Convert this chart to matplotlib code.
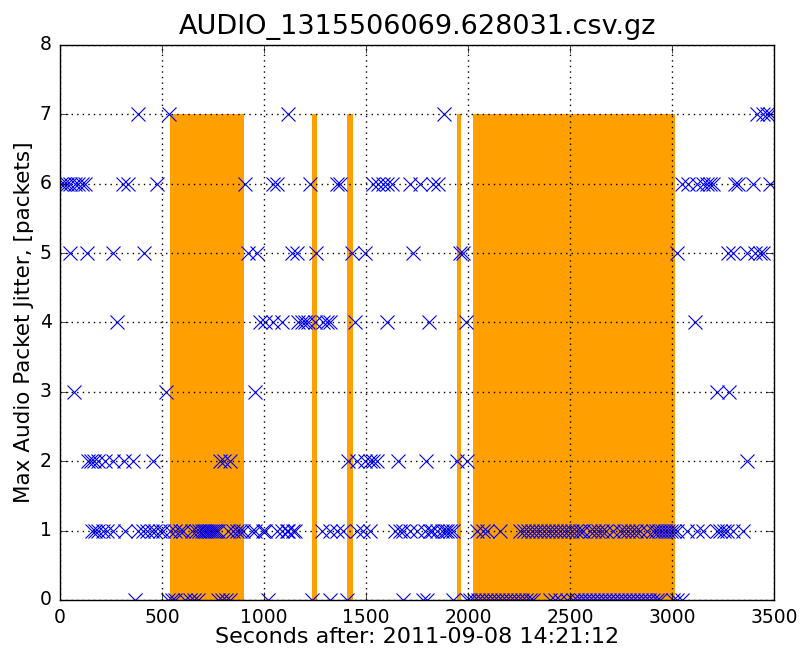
import matplotlib
matplotlib.use("Agg")
import matplotlib.pyplot as plt
import numpy as np

title = "AUDIO_1315506069.628031.csv.gz"
xlabel = "Seconds after: 2011-09-08 14:21:12"
ylabel = "Max Audio Packet Jitter, [packets]"

# orange span intervals (start, end) in seconds, filled from 0 up to span_level
span_starts = [539, 1235, 1407, 1946, 2025]
span_ends = [902, 1260, 1436, 1966, 3015]
span_level = 7

# jitter samples by level (seconds)
t_jit0 = [368, 529, 549, 564, 613, 637, 657, 676, 774, 794, 814, 833, 1020, 1235,
          1324, 1407, 1681, 1779, 1799, 1926, 1995, 2010, 2029, 2049, 2069, 2088,
          2108, 2127, 2147, 2167, 2186, 2206, 2225, 2245, 2265, 2284, 2304, 2319,
          2402, 2426, 2451, 2485, 2515, 2534, 2554, 2574, 2593, 2613, 2632, 2652,
          2672, 2691, 2711, 2730, 2750, 2770, 2789, 2809, 2828, 2848, 2868, 2887,
          2907, 2926, 2941, 3005, 3025, 3049]
t_jit1 = [157, 172, 186, 211, 230, 260, 319, 382, 407, 426, 451, 466, 490, 505,
          539, 564, 588, 603, 647, 667, 681, 696, 706, 716, 725, 735, 745, 755,
          765, 775, 824, 848, 868, 882, 897, 941, 956, 995, 1005, 1064, 1088, 1113,
          1118, 1142, 1152, 1284, 1324, 1358, 1387, 1456, 1485, 1520, 1642, 1667,
          1681, 1716, 1750, 1789, 1814, 1824, 1848, 1873, 1887, 1897, 1912, 1926,
          2044, 2074, 2093, 2157, 2255, 2275, 2294, 2314, 2333, 2353, 2373, 2392,
          2412, 2431, 2451, 2471, 2490, 2510, 2529, 2549, 2564, 2598, 2618, 2637,
          2657, 2676, 2711, 2745, 2765, 2784, 2804, 2824, 2843, 2877, 2907, 2922,
          2936, 2951, 2966, 2980, 2995, 3010, 3025, 3073, 3123, 3152, 3221, 3235,
          3255, 3270, 3299, 3348]
t_jit2 = [137, 152, 167, 186, 220, 260, 314, 358, 456, 784, 804, 833, 1412, 1456,
          1495, 1520, 1534, 1554, 1657, 1794, 1946, 1995, 3368]
t_jit3 = [69, 520, 956, 3221, 3279]
t_jit4 = [279, 980, 1005, 1044, 1088, 1167, 1186, 1201, 1216, 1250, 1289, 1309,
          1324, 1446, 1603, 1809, 1990, 3113]
t_jit5 = [49, 132, 260, 412, 922, 966, 1137, 1162, 1255, 1431, 1495, 1730, 1961,
          1975, 3024, 3275, 3299, 3368, 3407, 3431, 3446]
t_jit6 = [5, 20, 35, 50, 75, 90, 110, 125, 309, 333, 475, 907, 1044, 1064, 1225,
          1358, 1373, 1534, 1559, 1583, 1603, 1627, 1716, 1765, 1828, 1853, 3049,
          3078, 3123, 3152, 3172, 3186, 3201, 3309, 3324, 3397, 3480]
t_jit7 = [382, 534, 1118, 1882, 3416, 3446, 3466, 3480]

levels = [t_jit0, t_jit1, t_jit2, t_jit3, t_jit4, t_jit5, t_jit6, t_jit7]

plt.style.use("classic")
fig = plt.figure(figsize=(8.06, 6.54), dpi=100)
fig.patch.set_facecolor("white")
ax = fig.add_axes([0.0744, 0.0826, 0.8859, 0.8486])

for s, e in zip(span_starts, span_ends):
    ax.fill_between([s, e], 0, span_level, color="#ffa000", linewidth=0, zorder=1)

xs = np.concatenate([np.asarray(t, float) for t in levels])
ys = np.concatenate([np.full(len(t), lvl, float) for lvl, t in enumerate(levels)])
ax.plot(xs, ys, linestyle="none", marker="x", color="#0000ff",
        markersize=10, markeredgewidth=0.8, zorder=2, clip_on=True)

ax.set_xlim(0, 3500)
ax.set_ylim(0, 8)
ax.set_xticks(np.arange(0, 3501, 500))
ax.set_yticks(np.arange(0, 9, 1))
ax.grid(True, color="black", linestyle=":", linewidth=1)
ax.tick_params(labelsize=13.5, direction="in", length=6, pad=6)
ax.set_title(title, fontsize=19.5, pad=8)
ax.set_xlabel(xlabel, fontsize=16, labelpad=0)
ax.set_ylabel(ylabel, fontsize=15.5, labelpad=4)

fig.savefig("out.png", dpi=100, facecolor="white")
